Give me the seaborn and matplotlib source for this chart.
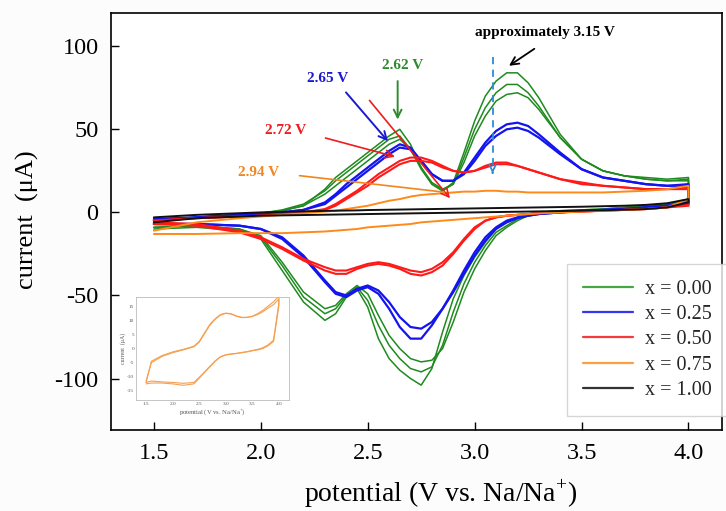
import matplotlib
matplotlib.use("Agg")
import matplotlib.pyplot as plt
import pandas as pd
import seaborn as sns
from matplotlib.lines import Line2D

# ---------------- data ----------------
potential = [1.50, 1.70, 1.90, 2.00, 2.10, 2.20, 2.30, 2.35, 2.40, 2.45, 2.50, 2.55,
             2.60, 2.65, 2.70, 2.75, 2.80, 2.85, 2.90, 2.95, 3.00, 3.05, 3.10, 3.15,
             3.20, 3.25, 3.30, 3.40, 3.50, 3.60, 3.70, 3.80, 3.90, 4.00]

# anodic (upper) and cathodic (lower) branches, both listed from 1.5 V to 4.0 V
green_anodic_1 = [-4, -3, -1.5, -0.5, 1, 4, 14, 21, 26, 31, 36, 41, 46, 50, 41, 27, 17, 13, 18, 36,
                  55, 70, 79, 84, 84, 78, 69, 47, 32, 25, 22, 21, 20, 21]
green_cathodic_1 = [-10, -9, -11, -16, -35, -54, -65, -61, -51, -46, -57, -76, -88, -95, -100, -104,
                    -94, -72, -52, -38, -27, -18, -10, -6, -3, -1, 0, 1, 1.5, 2, 3, 4, 5, 8]
green_anodic_2 = [-5, -3, -1.5, -0.5, 1.5, 5, 13, 19, 24, 29, 34, 39, 44, 46, 38, 26, 17, 13, 17, 33,
                  50, 63, 72, 77, 77, 72, 64, 45, 32, 25, 22, 20, 19, 20]
green_cathodic_2 = [-9, -8, -10, -15, -32, -51, -61, -58, -50, -45, -53, -68, -80, -88, -94, -96,
                    -93, -80, -60, -43, -30, -20, -12, -8, -4, -1.5, 0, 1, 1.5, 2, 3, 4, 5, 7]
green_anodic_3 = [-5, -3, -1.5, -0.5, 1, 4, 11, 16, 21, 26, 31, 36, 41, 44, 38, 27, 18, 14, 17, 30,
                  46, 58, 67, 71, 72, 69, 62, 45, 32, 25, 22, 20, 19, 19]
green_cathodic_3 = [-9, -8, -10, -14, -30, -48, -58, -56, -49, -44, -49, -62, -74, -82, -88, -90,
                    -89, -82, -66, -48, -34, -23, -14, -9, -5, -2, -0.5, 0.5, 1, 1.5, 2.5, 3, 4, 6]

blue_anodic_1 = [-5, -3, -1.5, -1, 0, 1.5, 6, 11, 17, 22, 27, 32, 37, 41, 39, 31, 23, 19, 19, 24,
                 33, 42, 49, 53, 54, 52, 47, 36, 26, 21, 19, 17, 16, 17]
blue_cathodic_1 = [-7, -7, -8, -10, -16, -27, -42, -49, -51, -47, -45, -49, -58, -69, -76, -76,
                   -68, -58, -47, -35, -24, -15, -9, -5, -3, -2, -1, 0, 1, 1.5, 2, 3, 4, 6]
blue_anodic_2 = [-4, -3, -1.5, -1, 0, 1.5, 5, 10, 15, 20, 25, 30, 35, 39, 38, 31, 23, 19, 19, 23,
                 31, 40, 46, 50, 51, 49, 45, 35, 26, 21, 19, 17, 16, 16]
blue_cathodic_2 = [-7, -7, -8, -10, -15, -26, -41, -48, -50, -46, -44, -47, -54, -63, -69, -70,
                   -66, -58, -48, -37, -26, -17, -10, -6, -3.5, -2, -1, 0, 1, 1.5, 2, 3, 4, 5]

red_anodic_1 = [-5, -3.5, -2.5, -2, -1, 0, 2, 5, 9, 13, 18, 23, 27, 31, 33, 33, 31, 28, 25, 24,
                25, 28, 30, 30, 28, 26, 24, 20, 18, 16, 15, 14, 14, 15]
red_cathodic_1 = [-7, -8, -12, -16, -22, -29, -35, -37, -37, -34, -32, -31, -32, -34, -37, -38,
                  -36, -32, -25, -17, -10, -5, -3, -2, -1.5, -1, -0.5, 0, 0.5, 1, 1.5, 2, 3, 5]
red_anodic_2 = [-5, -3.5, -2.5, -2, -1, 0, 1.5, 4, 8, 12, 16, 21, 25, 29, 31, 31, 30, 27, 25, 24,
                25, 27, 29, 29, 28, 26, 24, 20, 17, 16, 15, 14, 14, 14]
red_cathodic_2 = [-6, -7, -11, -15, -21, -28, -33, -35, -35, -33, -31, -30, -31, -33, -35, -36,
                  -34, -30, -24, -16, -9, -5, -3, -2, -1.5, -1, -0.5, 0, 0.5, 1, 1.5, 2, 3, 4]

orange_anodic = [-11, -6, -3.5, -2.5, -1.5, -0.5, 0.5, 1, 2, 3, 4, 5.5, 7, 8, 9.5, 10.5, 11, 11.5,
                 12, 12.5, 12.5, 13, 13, 12.5, 12.5, 12, 12, 12, 12, 12, 12.5, 13, 14, 16]
orange_cathodic = [-13, -13, -12.5, -12.5, -12.5, -12, -11.5, -11, -10.5, -10, -9, -8.5, -8, -7.5,
                   -7, -6, -5.5, -5, -4.5, -4, -3.5, -3, -2.5, -2, -1.5, -1, -0.5, 0, 0.5, 1, 1.5,
                   2, 3, 8]

black_anodic = [-3, -1.5, -0.5, 0, 0.3, 0.6, 0.9, 1, 1.1, 1.2, 1.4, 1.5, 1.6, 1.7, 1.8, 1.9, 2,
                2.1, 2.2, 2.3, 2.4, 2.5, 2.6, 2.7, 2.8, 2.9, 3, 3.2, 3.4, 3.7, 4, 4.5, 5.5, 8]
black_cathodic = [-6, -3.5, -2.5, -2, -1.8, -1.6, -1.4, -1.3, -1.2, -1.1, -1, -0.9, -0.8, -0.7,
                  -0.6, -0.5, -0.4, -0.3, -0.2, -0.1, 0, 0.1, 0.2, 0.3, 0.4, 0.5, 0.6, 0.8, 1,
                  1.3, 1.6, 2, 3, 6]

# inset (x = 0.75 enlarged)
inset_potential = [1.5, 1.6, 1.8, 2.0, 2.2, 2.4, 2.5, 2.6, 2.7, 2.8, 2.9, 3.0, 3.1, 3.2, 3.3,
                   3.4, 3.5, 3.6, 3.7, 3.8, 3.9, 4.0]
inset_anodic_1 = [-12, -4.5, -2.5, -1.2, -0.3, 0.8, 2.5, 5.5, 8.5, 10.5, 12, 12.5, 12.3, 11.5, 11,
                  11, 11.3, 12, 13, 14.3, 15.5, 17.5]
inset_cathodic_1 = [-12.5, -12.2, -12.2, -12.5, -13, -12.5, -10.5, -8.5, -6.5, -4.5, -3, -2.3,
                    -2.0, -1.8, -1.5, -1.2, -0.8, -0.5, 0, 1, 2.5, 15]
inset_anodic_2 = [-11.5, -5, -2.8, -1.5, -0.5, 0.6, 2.2, 5.2, 8.2, 10.3, 11.8, 12.4, 12.2, 11.4,
                  10.9, 11, 11.4, 12.3, 13.5, 15, 16.5, 18.5]
inset_cathodic_2 = [-12, -11.5, -11.8, -12, -12.3, -12, -10.2, -8.3, -6.3, -4.4, -2.9, -2.2,
                    -1.9, -1.7, -1.4, -1.1, -0.7, -0.3, 0.3, 1.3, 3, 16]

legend_labels = ["x = 0.00", "x = 0.25", "x = 0.50", "x = 0.75", "x = 1.00"]
x_ticks = [1.5, 2.0, 2.5, 3.0, 3.5, 4.0]
y_ticks = [-100, -50, 0, 50, 100]
inset_x_ticks = [1.5, 2.0, 2.5, 3.0, 3.5, 4.0]
inset_y_ticks = [-15, -10, -5, 0, 5, 10, 15]


def loop(series, cycle, anod, cath, grid):
    pot = list(grid) + list(grid)[::-1]
    cur = list(anod) + list(cath)[::-1]
    return pd.DataFrame({"potential": pot, "current": cur, "series": series,
                         "cycle": f"{series}-{cycle}"})


main_df = pd.concat([
    loop("x = 0.00", 1, green_anodic_1, green_cathodic_1, potential),
    loop("x = 0.00", 2, green_anodic_2, green_cathodic_2, potential),
    loop("x = 0.00", 3, green_anodic_3, green_cathodic_3, potential),
    loop("x = 0.25", 1, blue_anodic_1, blue_cathodic_1, potential),
    loop("x = 0.25", 2, blue_anodic_2, blue_cathodic_2, potential),
    loop("x = 0.50", 1, red_anodic_1, red_cathodic_1, potential),
    loop("x = 0.50", 2, red_anodic_2, red_cathodic_2, potential),
    loop("x = 0.75", 1, orange_anodic, orange_cathodic, potential),
    loop("x = 1.00", 1, black_anodic, black_cathodic, potential),
], ignore_index=True)

inset_df = pd.concat([
    loop("x = 0.75", 1, inset_anodic_1, inset_cathodic_1, inset_potential),
    loop("x = 0.75", 2, inset_anodic_2, inset_cathodic_2, inset_potential),
], ignore_index=True)

# ---------------- style ----------------
sns.set_theme(style="white")
plt.rcParams["font.family"] = ["Liberation Serif", "DejaVu Serif"]
plt.rcParams["mathtext.fontset"] = "custom"
plt.rcParams["mathtext.rm"] = "Liberation Serif"
plt.rcParams["axes.unicode_minus"] = False

line_colors = {"x = 0.00": "#1f8a1f", "x = 0.25": "#1414ee", "x = 0.50": "#ff1a1a",
               "x = 0.75": "#ff8a1a", "x = 1.00": "#111111"}
line_widths = {"x = 0.00": 1.1, "x = 0.25": 1.6, "x = 0.50": 1.5,
               "x = 0.75": 1.4, "x = 1.00": 1.4}
legend_colors = ["#45a845", "#3535f5", "#f53a3a", "#ffa040", "#333333"]

fig = plt.figure(figsize=(7.26, 5.11), dpi=100)
fig.patch.set_facecolor("#fcfcfc")
ax = fig.add_axes([0.153, 0.1585, 0.841, 0.816])
ax.set_facecolor("white")

for name in legend_labels:
    sub = main_df[main_df["series"] == name]
    sns.lineplot(data=sub, x="potential", y="current", units="cycle", estimator=None,
                 sort=False, color=line_colors[name], linewidth=line_widths[name],
                 ax=ax, legend=False)

ax.set_xlim(1.30, 4.155)
ax.set_ylim(-131, 120)
ax.set_xticks(x_ticks)
ax.set_xticklabels([f"{t:.1f}" for t in x_ticks])
ax.set_yticks(y_ticks)
ax.set_yticklabels([str(t) for t in y_ticks])
ax.tick_params(direction="in", length=6, width=1, labelsize=17.5, pad=9, colors="black",
               bottom=True, left=True, top=False, right=False)
for sp in ax.spines.values():
    sp.set_color("black")
    sp.set_linewidth(1.2)

ax.set_xlabel("potential (V vs. Na/Na$^{+}$)", fontsize=20, color="black")
ax.set_ylabel("current  (\u03bcA)", fontsize=19, color="black")
ax.xaxis.set_label_coords(0.540, -0.113)
ax.yaxis.set_label_coords(-0.118, 0.505)

handles = [Line2D([0], [0], color=c, lw=1.6) for c in legend_colors]
leg = ax.legend(handles, legend_labels, loc="lower left", bbox_to_anchor=(0.746, 0.034),
                fontsize=14.5, frameon=True, fancybox=False, edgecolor="#cccccc",
                handlelength=2.5, handletextpad=0.6, labelspacing=0.3, borderpad=0.8,
                borderaxespad=0)
leg.get_frame().set_linewidth(1.0)
leg.get_frame().set_facecolor("white")

# ---------------- annotations ----------------
ax.text(3.327, 108.4, "approximately 3.15 V", ha="center", va="center", fontsize=11,
        fontweight="bold", color="black")
ax.annotate("", xy=(3.15, 87.3), xytext=(3.29, 99.4),
            arrowprops=dict(arrowstyle="->", color="black", lw=1.3, mutation_scale=14))
ax.plot([3.084, 3.084], [93.4, 25.0], color="#2d8bd8", lw=1.3, ls=(0, (4, 3)))
ax.annotate("", xy=(3.084, 23.5), xytext=(3.084, 25.5),
            arrowprops=dict(arrowstyle="->", color="#2d8bd8", lw=1.3, mutation_scale=12))

ax.text(2.664, 88.6, "2.62 V", ha="center", va="center", fontsize=11, fontweight="bold",
        color="#2e8b2e")
ax.annotate("", xy=(2.64, 54.2), xytext=(2.64, 80.7),
            arrowprops=dict(arrowstyle="->", color="#2e8b2e", lw=1.4, mutation_scale=14))

ax.text(2.313, 80.7, "2.65 V", ha="center", va="center", fontsize=11, fontweight="bold",
        color="#1a1ad0")
ax.annotate("", xy=(2.603, 41.6), xytext=(2.39, 73.5),
            arrowprops=dict(arrowstyle="->", color="#1a1ad0", lw=1.4, mutation_scale=14))

ax.text(2.117, 49.4, "2.72 V", ha="center", va="center", fontsize=11, fontweight="bold",
        color="#ee1c1c")
ax.annotate("", xy=(2.64, 33.1), xytext=(2.29, 45.2),
            arrowprops=dict(arrowstyle="->", color="#ee1c1c", lw=1.2, mutation_scale=14))
ax.annotate("", xy=(2.893, 7.2), xytext=(2.50, 68.7),
            arrowprops=dict(arrowstyle="->", color="#ee1c1c", lw=1.2, mutation_scale=14))

ax.text(1.99, 24.1, "2.94 V", ha="center", va="center", fontsize=11, fontweight="bold",
        color="#f2861e")
ax.annotate("", xy=(2.87, 12.0), xytext=(2.168, 22.3),
            arrowprops=dict(arrowstyle="-", color="#f2861e", lw=1.2))

# ---------------- inset ----------------
ins = fig.add_axes([0.1873, 0.2172, 0.2107, 0.2016])
ins.set_facecolor("white")
sns.lineplot(data=inset_df, x="potential", y="current", units="cycle", estimator=None,
             sort=False, color="#f5a050", linewidth=0.8, ax=ins, legend=False)
ins.set_xlim(1.31, 4.19)
ins.set_ylim(-18.2, 18.2)
ins.set_xticks(inset_x_ticks)
ins.set_xticklabels([f"{t:.1f}" for t in inset_x_ticks])
ins.set_yticks(inset_y_ticks)
ins.set_yticklabels([str(t) for t in inset_y_ticks])
ins.tick_params(direction="in", length=1.5, width=0.4, labelsize=3.8, pad=1.5,
                colors="#555555")
for sp in ins.spines.values():
    sp.set_color("#bbbbbb")
    sp.set_linewidth(0.6)
ins.set_xlabel("potential (V vs. Na/Na$^{+}$)", fontsize=4.8, color="#555555", labelpad=1.5)
ins.set_ylabel("current  (\u03bcA)", fontsize=4.2, color="#555555", labelpad=1)

fig.savefig("out.png", dpi=100, facecolor=fig.get_facecolor())
